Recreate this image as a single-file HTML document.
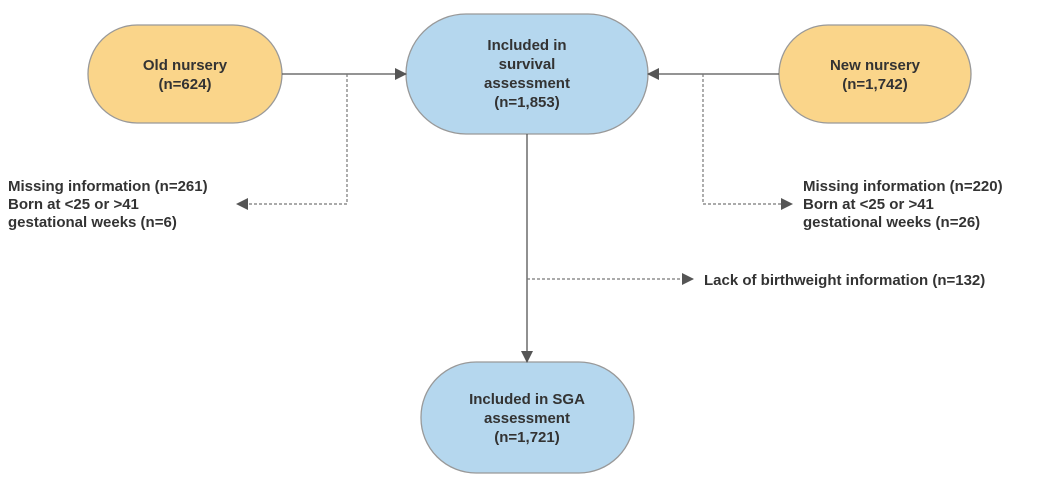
<!DOCTYPE html>
<html><head><meta charset="utf-8"><style>
body{margin:0;background:#fff;}
svg text{font-family:"Liberation Sans",Arial,sans-serif;font-weight:bold;font-size:15px;fill:#333;}
</style></head><body>
<svg width="1039" height="490" viewBox="0 0 1039 490" xmlns="http://www.w3.org/2000/svg">
<defs>
<marker id="a" markerWidth="12" markerHeight="12" refX="11" refY="6" orient="auto" markerUnits="userSpaceOnUse">
<path d="M0,0 L12,6 L0,12 Z" fill="#555"/></marker>
</defs>
<rect x="88" y="25" width="194" height="98" rx="49" fill="#fad58a" stroke="#999" stroke-width="1.3"/>
<rect x="406" y="14" width="242" height="120" rx="60" fill="#b5d7ee" stroke="#999" stroke-width="1.3"/>
<rect x="779" y="25" width="192" height="98" rx="49" fill="#fad58a" stroke="#999" stroke-width="1.3"/>
<rect x="421" y="362" width="213" height="111" rx="55" fill="#b5d7ee" stroke="#999" stroke-width="1.3"/>
<g stroke="#555" stroke-width="1.3" fill="none">
<line x1="282" y1="74" x2="406" y2="74" marker-end="url(#a)"/>
<line x1="779" y1="74" x2="648" y2="74" marker-end="url(#a)"/>
<line x1="527" y1="134" x2="527" y2="362" marker-end="url(#a)"/>
</g>
<g stroke="#777" stroke-width="1.2" fill="none" stroke-dasharray="3,2">
<polyline points="347,74 347,204 237,204" marker-end="url(#a)"/>
<polyline points="703,74 703,204 792,204" marker-end="url(#a)"/>
<polyline points="527,279 693,279" marker-end="url(#a)"/>
</g>
<text x="185" y="70" text-anchor="middle">Old nursery</text>
<text x="185" y="89" text-anchor="middle">(n=624)</text>
<text x="527" y="50" text-anchor="middle">Included in</text>
<text x="527" y="69" text-anchor="middle">survival</text>
<text x="527" y="88" text-anchor="middle">assessment</text>
<text x="527" y="107" text-anchor="middle">(n=1,853)</text>
<text x="875" y="70" text-anchor="middle">New nursery</text>
<text x="875" y="89" text-anchor="middle">(n=1,742)</text>
<text x="527" y="404" text-anchor="middle">Included in SGA</text>
<text x="527" y="423" text-anchor="middle">assessment</text>
<text x="527" y="442" text-anchor="middle">(n=1,721)</text>
<text x="8" y="191">Missing information (n=261)</text>
<text x="8" y="209">Born at &lt;25 or &gt;41</text>
<text x="8" y="227">gestational weeks (n=6)</text>
<text x="803" y="191">Missing information (n=220)</text>
<text x="803" y="209">Born at &lt;25 or &gt;41</text>
<text x="803" y="227">gestational weeks (n=26)</text>
<text x="704" y="285">Lack of birthweight information (n=132)</text>
</svg>
</body></html>
